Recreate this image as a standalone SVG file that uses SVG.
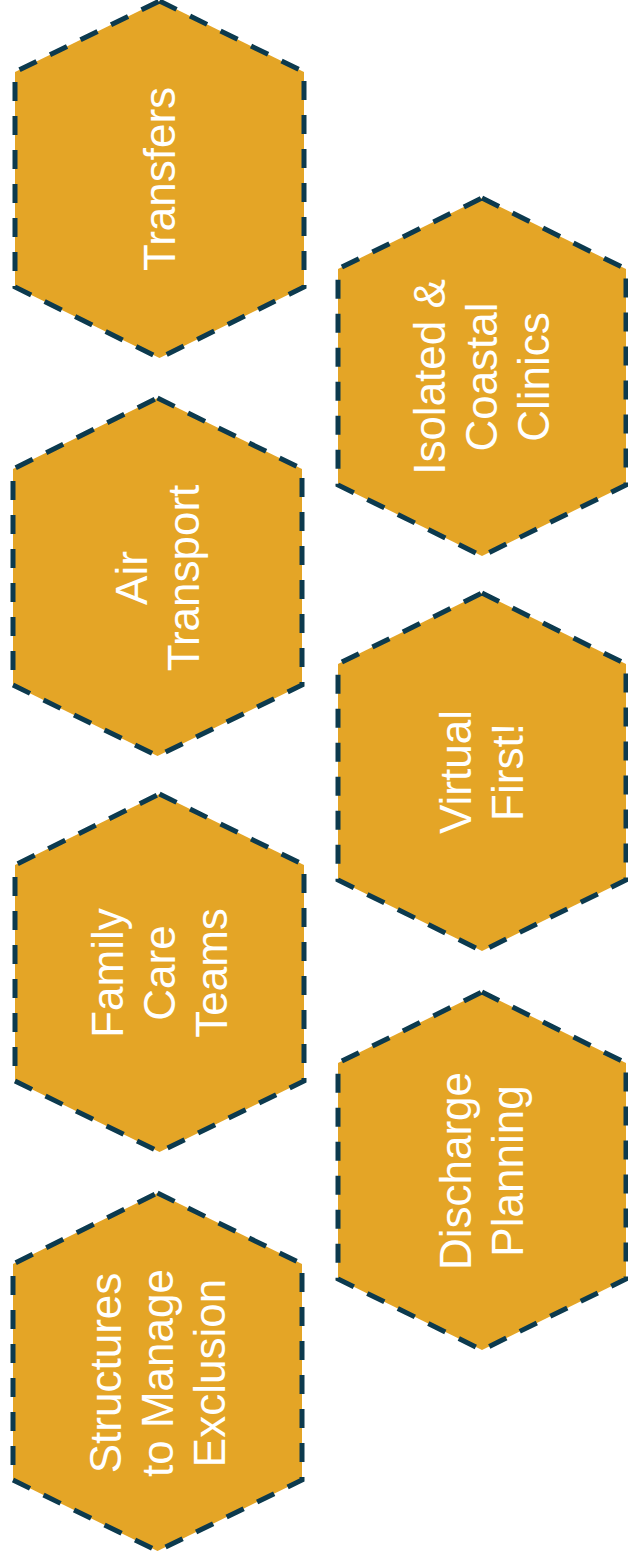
<svg xmlns="http://www.w3.org/2000/svg" width="628" height="1564" viewBox="0 0 628 1564">
<style>
.hex{fill:#E4A526;stroke:#0C3A4E;stroke-width:5;stroke-dasharray:19 15;}
.lbl{fill:#FFFFFF;font-family:"Liberation Sans",Arial,sans-serif;font-size:44px;text-anchor:middle;}
</style>
<rect width="628" height="1564" fill="#FFFFFF"/>
<g id="connectors"></g>
<g id="transfers">
<polygon class="hex" points="159.5,1 304,72 304,287 159.5,358 15,287 15,72"/>
<text class="lbl" transform="translate(159.5,179) rotate(-90)"><tspan x="0" y="15">Transfers</tspan></text>
</g>
<g id="air-transport">
<polygon class="hex" points="157.5,398 302,469 302,685 157.5,756 13,685 13,469"/>
<text class="lbl" transform="translate(157.5,578) rotate(-90)"><tspan x="0" y="-11">Air</tspan><tspan x="0" y="41">Transport</tspan></text>
</g>
<g id="family-care-teams">
<polygon class="hex" points="159.5,794 304,865 304,1081 159.5,1152 15,1081 15,865"/>
<text class="lbl" transform="translate(159.5,973) rotate(-90)"><tspan x="0" y="-37">Family</tspan><tspan x="0" y="15">Care</tspan><tspan x="0" y="67">Teams</tspan></text>
</g>
<g id="structures">
<polygon class="hex" points="157.5,1193 302,1264 302,1480 157.5,1551 13,1480 13,1264"/>
<text class="lbl" transform="translate(157.5,1373) rotate(-90)"><tspan x="0" y="-37">Structures</tspan><tspan x="0" y="15">to Manage</tspan><tspan x="0" y="67">Exclusion</tspan></text>
</g>
<g id="isolated-coastal">
<polygon class="hex" points="482,198 626,269 626,485 482,556 338,485 338,269"/>
<text class="lbl" transform="translate(482,377) rotate(-90)"><tspan x="0" y="-37">Isolated &amp;</tspan><tspan x="0" y="15">Coastal</tspan><tspan x="0" y="67">Clinics</tspan></text>
</g>
<g id="virtual-first">
<polygon class="hex" points="482,593 626,664 626,880 482,951 338,880 338,664"/>
<text class="lbl" transform="translate(482,772) rotate(-90)"><tspan x="0" y="-11">Virtual</tspan><tspan x="0" y="41">First!</tspan></text>
</g>
<g id="discharge-planning">
<polygon class="hex" points="482,992 626,1063 626,1279 482,1350 338,1279 338,1063"/>
<text class="lbl" transform="translate(482,1171) rotate(-90)"><tspan x="0" y="-11">Discharge</tspan><tspan x="0" y="41">Planning</tspan></text>
</g>
</svg>
